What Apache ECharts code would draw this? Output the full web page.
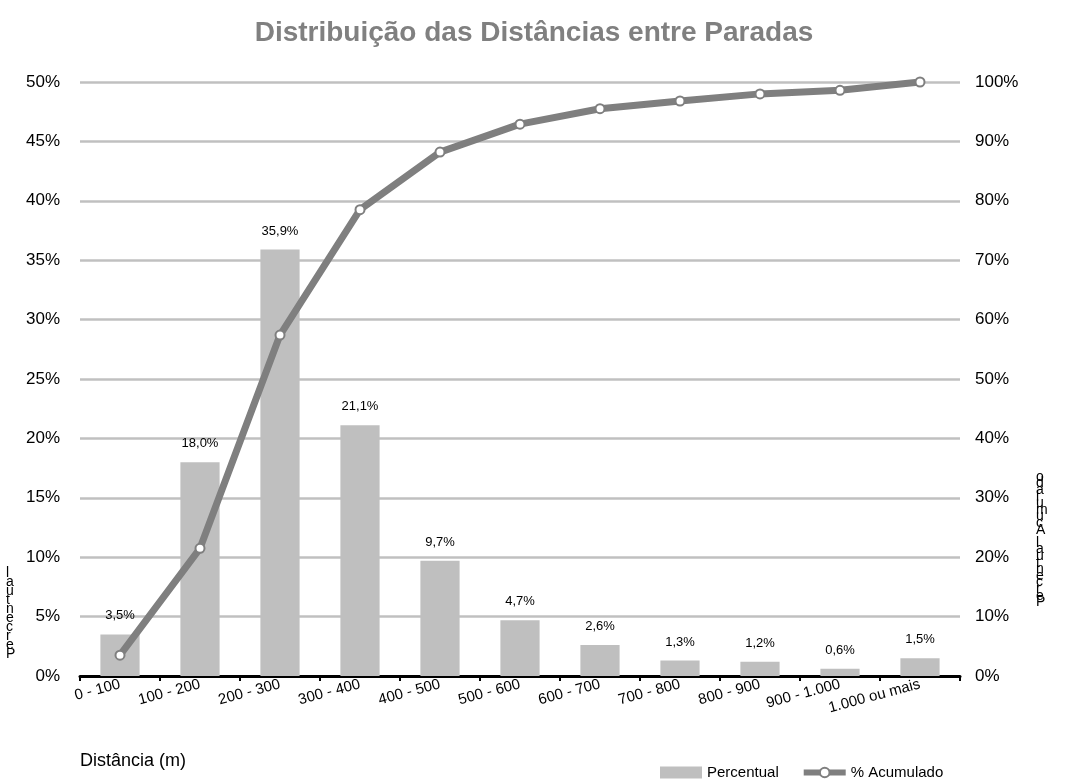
<!DOCTYPE html>
<html><head><meta charset="utf-8">
<script src="https://cdn.jsdelivr.net/npm/echarts@6/dist/echarts.min.js"></script>
<style>html,body{margin:0;padding:0;background:#fff}#c{width:1068px;height:782px}</style>
</head><body><div id="c"></div>
<script>
var categories = ['0 - 100','100 - 200','200 - 300','300 - 400','400 - 500','500 - 600','600 - 700','700 - 800','800 - 900','900 - 1.000','1.000 ou mais'];
var percentual = [3.5, 18.0, 35.9, 21.1, 9.7, 4.7, 2.6, 1.3, 1.2, 0.6, 1.5];
var acumulado = [3.5, 21.5, 57.4, 78.5, 88.2, 92.9, 95.5, 96.8, 98.0, 98.6, 100];
var leftTicks = [0, 5, 10, 15, 20, 25, 30, 35, 40, 45, 50];
var rightTicks = [0, 10, 20, 30, 40, 50, 60, 70, 80, 90, 100];

var FONT = "'Liberation Sans', Arial, sans-serif";
function stacked(s){ return s.split('').reverse().join('\n'); }
function pct(v){ return v + '%'; }

var chart = echarts.init(document.getElementById('c'), null, {renderer:'canvas'});
chart.setOption({
  animation: false,
  title: {
    text: 'Distribuição das Distâncias entre Paradas',
    left: 'center', top: 14,
    textStyle: {color:'#808080', fontSize:28, fontWeight:'bold', fontFamily:FONT}
  },
  grid: {left:80, right:108, top:82, bottom:106, containLabel:false},
  legend: {
    left: 655, top: 760, itemGap: 22, itemWidth: 42, itemHeight: 12,
    textStyle: {fontFamily: FONT, fontSize: 15, color:'#000'},
    data: [
      {name:'Percentual', icon:'rect'},
      {name:'% Acumulado', lineStyle:{width:6, color:'#7f7f7f'}}
    ]
  },
  xAxis: {
    type:'category', data: categories, boundaryGap: true,
    axisLine: {lineStyle:{color:'#000', width:3}},
    axisTick: {show:true, length:5, lineStyle:{color:'#000', width:2}},
    axisLabel: {interval:0, rotate:15, margin:8, fontFamily: FONT, fontSize:15, color:'#000'}
  },
  yAxis: [
    {type:'value', min:0, max:50, interval:5,
     axisLine:{show:false}, axisTick:{show:false},
     splitLine:{lineStyle:{color:'#c0c0c0', width:2.5}},
     axisLabel:{formatter: pct, fontFamily:FONT, fontSize:17, color:'#000', margin:20}},
    {type:'value', min:0, max:100, interval:10,
     axisLine:{show:false}, axisTick:{show:false}, splitLine:{show:false},
     axisLabel:{formatter: pct, fontFamily:FONT, fontSize:17, color:'#000', margin:15}}
  ],
  series: [
    {name:'Percentual', type:'bar', data: percentual, yAxisIndex:0, barWidth:'49%',
     itemStyle:{color:'#bfbfbf'},
     label:{show:true, position:'top', distance:12, fontFamily:FONT, fontSize:13, color:'#000',
       formatter: function(p){return p.value.toFixed(1).replace('.', ',')+'%';}}},
    {name:'% Acumulado', type:'line', data: acumulado, yAxisIndex:1,
     symbol:'emptyCircle', symbolSize:9, showAllSymbol:true,
     lineStyle:{color:'#7f7f7f', width:7},
     itemStyle:{color:'#7f7f7f', borderColor:'#7f7f7f', borderWidth:3.5}}
  ],
  graphic: [
    {type:'text', left:80, top:752, style:{text:'Distância (m)', fontFamily:FONT, fontSize:18, fill:'#000'}},
    {type:'text', left:6, top:566, style:{text: stacked('Percentual'), fontFamily:FONT, fontSize:14, lineHeight:9, fill:'#000'}},
    {type:'text', left:1036, top:470, style:{text: stacked('Percentual Acumulado'), fontFamily:FONT, fontSize:14, lineHeight:6.6, fill:'#000'}}
  ]
});
</script></body></html>
